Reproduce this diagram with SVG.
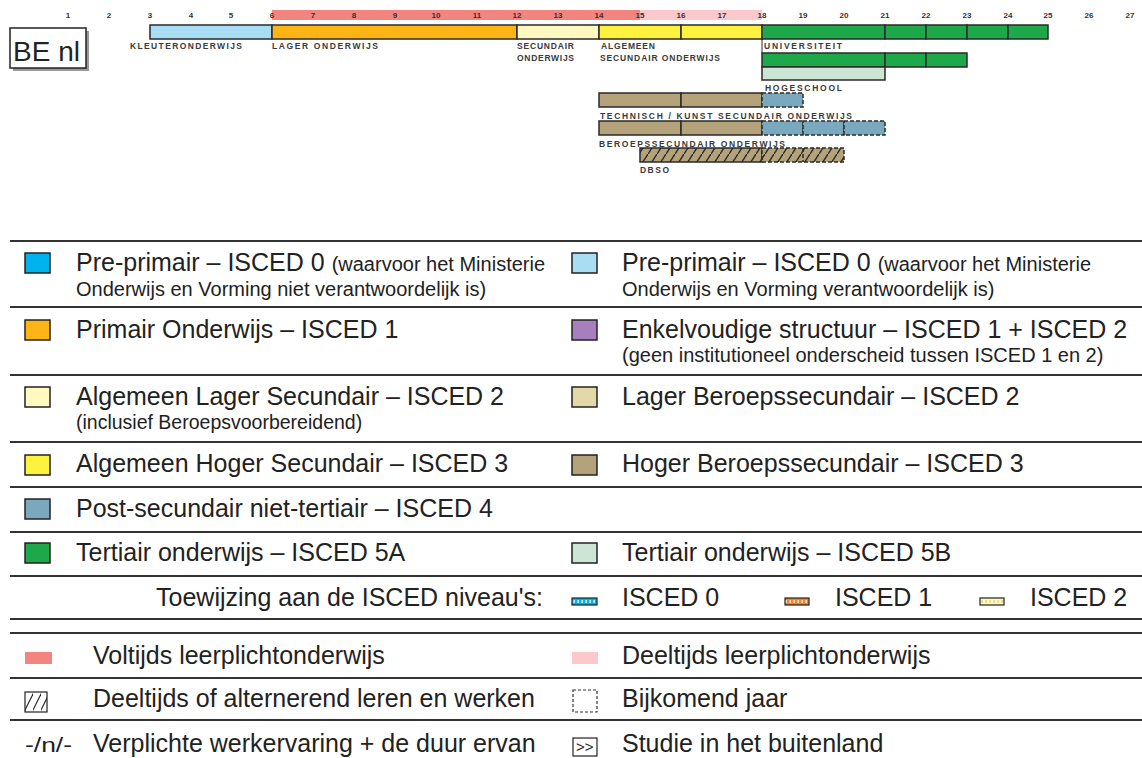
<svg xmlns="http://www.w3.org/2000/svg" width="1142" height="758" viewBox="0 0 1142 758">
<defs>
<style>
.num{font-family:"Liberation Sans",Arial,sans-serif;font-size:8px;font-weight:bold;fill:#333;text-anchor:middle}
.lab{font-family:"Liberation Sans",Arial,sans-serif;font-size:8.5px;font-weight:bold;fill:#3a3a3a}
.bar{stroke:#2a2a2a;stroke-width:1.5}
.dash{stroke:#2a2a2a;stroke-width:1.5;stroke-dasharray:4 2}
.lt{font-family:"Liberation Sans",Arial,sans-serif;font-size:25px;fill:#222}
.st{font-family:"Liberation Sans",Arial,sans-serif;font-size:20px;fill:#222}
.xs{font-family:"Liberation Sans",Arial,sans-serif;font-size:19.5px;fill:#222}
.sw{stroke:#222;stroke-width:1.5}
.rule{stroke:#333;stroke-width:2}
</style>
<pattern id="hatch" patternUnits="userSpaceOnUse" width="9" height="14">
<rect width="9" height="14" fill="#B4A27A"/>
<path d="M0,14 L9,0" stroke="#2a2a2a" stroke-width="1.4"/>
</pattern>
<pattern id="hatch2" patternUnits="userSpaceOnUse" x="25" y="692" width="8" height="20">
<rect width="8" height="20" fill="#fff"/>
<path d="M-1,20 L9,0" stroke="#222" stroke-width="1.2"/>
</pattern>
<pattern id="str0" patternUnits="userSpaceOnUse" x="0" y="598" width="4" height="8">
<rect width="4" height="8" fill="#00B3EC"/><rect x="1.5" y="2" width="1.2" height="3" fill="#fff"/>
</pattern>
<pattern id="str1" patternUnits="userSpaceOnUse" x="0" y="598" width="4" height="8">
<rect width="4" height="8" fill="#F58220"/><rect x="1.5" y="2" width="1.2" height="3" fill="#fff"/>
</pattern>
<pattern id="str2" patternUnits="userSpaceOnUse" x="0" y="598" width="4" height="8">
<rect width="4" height="8" fill="#FFF8C0"/><rect x="1.5" y="2" width="1.2" height="3" fill="#D8CF7A"/>
</pattern>
</defs>
<rect width="1142" height="758" fill="#fff"/>

<g id="country">
<rect x="13" y="31" width="76" height="40" fill="#999"/>
<rect x="10" y="28" width="76" height="40" fill="#fff" stroke="#222" stroke-width="1.5"/>
<text x="13" y="61" style="font-family:'Liberation Sans',Arial,sans-serif;font-size:28px;fill:#222">BE nl</text>
</g>

<g id="compulsory">
<rect x="272" y="10" width="368" height="10" fill="#F2857F"/>
<rect x="640" y="10" width="122" height="10" fill="#FBC8CC"/>
</g>

<g id="axis">
<text class="num" x="68" y="18">1</text><text class="num" x="109" y="18">2</text><text class="num" x="150" y="18">3</text><text class="num" x="191" y="18">4</text><text class="num" x="231" y="18">5</text><text class="num" x="272" y="18">6</text><text class="num" x="313" y="18">7</text><text class="num" x="354" y="18">8</text><text class="num" x="395" y="18">9</text><text class="num" x="436" y="18">10</text><text class="num" x="477" y="18">11</text><text class="num" x="517" y="18">12</text><text class="num" x="558" y="18">13</text><text class="num" x="599" y="18">14</text><text class="num" x="640" y="18">15</text><text class="num" x="681" y="18">16</text><text class="num" x="722" y="18">17</text><text class="num" x="762" y="18">18</text><text class="num" x="803" y="18">19</text><text class="num" x="844" y="18">20</text><text class="num" x="885" y="18">21</text><text class="num" x="926" y="18">22</text><text class="num" x="967" y="18">23</text><text class="num" x="1008" y="18">24</text><text class="num" x="1048" y="18">25</text><text class="num" x="1089" y="18">26</text><text class="num" x="1130" y="18">27</text>
</g>

<g id="kleuter">
<rect class="bar" x="150" y="25" width="122" height="14" fill="#A9DDF4"/>
<text class="lab" x="130" y="49" textLength="112" lengthAdjust="spacing">KLEUTERONDERWIJS</text>
</g>
<g id="lager">
<rect class="bar" x="272" y="25" width="245" height="14" fill="#FDB515"/>
<text class="lab" x="272" y="49" textLength="106" lengthAdjust="spacing">LAGER ONDERWIJS</text>
</g>
<g id="secundair">
<rect class="bar" x="517" y="25" width="82" height="14" fill="#FFF8C0"/>
<text class="lab" x="517" y="49" textLength="57" lengthAdjust="spacing">SECUNDAIR</text>
<text class="lab" x="517" y="61" textLength="57" lengthAdjust="spacing">ONDERWIJS</text>
</g>
<g id="algemeen">
<rect class="bar" x="599" y="25" width="82" height="14" fill="#FFF23F"/>
<rect class="bar" x="681" y="25" width="81" height="14" fill="#FFF23F"/>
<text class="lab" x="601" y="49" textLength="54" lengthAdjust="spacing">ALGEMEEN</text>
<text class="lab" x="600" y="61" textLength="120" lengthAdjust="spacing">SECUNDAIR ONDERWIJS</text>
</g>
<g id="universiteit">
<line x1="762" y1="39" x2="762" y2="53" stroke="#2a2a2a" stroke-width="1"/>
<rect class="bar" x="762" y="25" width="123" height="14" fill="#1DA84A"/>
<rect class="bar" x="885" y="25" width="41" height="14" fill="#1DA84A"/>
<rect class="bar" x="926" y="25" width="41" height="14" fill="#1DA84A"/>
<rect class="bar" x="967" y="25" width="41" height="14" fill="#1DA84A"/>
<rect class="bar" x="1008" y="25" width="40" height="14" fill="#1DA84A"/>
<text class="lab" x="764" y="49" textLength="78" lengthAdjust="spacing">UNIVERSITEIT</text>
</g>
<g id="hogeschool">
<rect class="bar" x="762" y="53" width="123" height="14" fill="#1DA84A"/>
<rect class="bar" x="885" y="53" width="41" height="14" fill="#1DA84A"/>
<rect class="bar" x="926" y="53" width="41" height="14" fill="#1DA84A"/>
<rect class="bar" x="762" y="67" width="123" height="13" fill="#CCE6D3"/>
<text class="lab" x="765" y="91" textLength="77" lengthAdjust="spacing">HOGESCHOOL</text>
</g>
<g id="technisch">
<rect class="bar" x="599" y="93" width="82" height="14" fill="#B4A27A"/>
<rect class="bar" x="681" y="93" width="81" height="14" fill="#B4A27A"/>
<rect class="dash" x="762" y="93" width="41" height="14" fill="#7AA8BD"/>
<text class="lab" x="600" y="119" textLength="252" lengthAdjust="spacing">TECHNISCH / KUNST SECUNDAIR ONDERWIJS</text>
</g>
<g id="beroeps">
<rect class="bar" x="599" y="121" width="82" height="14" fill="#B4A27A"/>
<rect class="bar" x="681" y="121" width="81" height="14" fill="#B4A27A"/>
<rect class="dash" x="762" y="121" width="41" height="14" fill="#7AA8BD"/>
<rect class="dash" x="803" y="121" width="41" height="14" fill="#7AA8BD"/>
<rect class="dash" x="844" y="121" width="41" height="14" fill="#7AA8BD"/>
<text class="lab" x="599" y="147" textLength="186" lengthAdjust="spacing">BEROEPSSECUNDAIR ONDERWIJS</text>
</g>
<g id="dbso">
<rect class="bar" x="640" y="148" width="122" height="14" fill="url(#hatch)"/>
<rect class="dash" x="762" y="148" width="82" height="14" fill="url(#hatch)"/>
<line class="dash" x1="803" y1="148" x2="803" y2="162"/>
<text class="lab" x="640" y="173" textLength="29" lengthAdjust="spacing">DBSO</text>
</g>

<g id="rules">
<line class="rule" x1="10" y1="241" x2="1142" y2="241"/>
<line class="rule" x1="10" y1="307" x2="1142" y2="307"/>
<line class="rule" x1="10" y1="375" x2="1142" y2="375"/>
<line class="rule" x1="10" y1="442" x2="1142" y2="442"/>
<line class="rule" x1="10" y1="487" x2="1142" y2="487"/>
<line class="rule" x1="10" y1="532" x2="1142" y2="532"/>
<line class="rule" x1="10" y1="576" x2="1142" y2="576"/>
<line class="rule" x1="10" y1="619" x2="1142" y2="619"/>
<line class="rule" x1="10" y1="633" x2="1142" y2="633"/>
<line class="rule" x1="10" y1="678" x2="1142" y2="678"/>
<line class="rule" x1="10" y1="720" x2="1142" y2="720"/>
</g>

<g id="leg-preprimair">
<rect class="sw" x="25" y="253" width="25" height="20" fill="#00B3EC"/>
<text class="lt" x="76" y="271">Pre-primair – ISCED 0 <tspan class="st">(waarvoor het Ministerie</tspan></text>
<text class="st" x="76" y="296">Onderwijs en Vorming niet verantwoordelijk is)</text>
</g>
<g id="leg-preprimair2">
<rect class="sw" x="572" y="253" width="25" height="20" fill="#A9DDF4"/>
<text class="lt" x="622" y="271">Pre-primair – ISCED 0 <tspan class="st">(waarvoor het Ministerie</tspan></text>
<text class="st" x="622" y="296">Onderwijs en Vorming verantwoordelijk is)</text>
</g>
<g id="leg-primair">
<rect class="sw" x="25" y="320" width="25" height="20" fill="#FDB515"/>
<text class="lt" x="76" y="338">Primair Onderwijs – ISCED 1</text>
</g>
<g id="leg-enkel">
<rect class="sw" x="572" y="320" width="25" height="20" fill="#A67FBC"/>
<text class="lt" x="622" y="338">Enkelvoudige structuur – ISCED 1 + ISCED 2</text>
<text class="st" x="622" y="362">(geen institutioneel onderscheid tussen ISCED 1 en 2)</text>
</g>
<g id="leg-alglager">
<rect class="sw" x="25" y="387" width="25" height="20" fill="#FFF8C0"/>
<text class="lt" x="76" y="405">Algemeen Lager Secundair – ISCED 2</text>
<text class="xs" x="76" y="429">(inclusief Beroepsvoorbereidend)</text>
</g>
<g id="leg-berlager">
<rect class="sw" x="572" y="387" width="25" height="20" fill="#E3D8A8"/>
<text class="lt" x="622" y="405">Lager Beroepssecundair – ISCED 2</text>
</g>
<g id="leg-alghoger">
<rect class="sw" x="25" y="455" width="25" height="20" fill="#FFF23F"/>
<text class="lt" x="76" y="472">Algemeen Hoger Secundair – ISCED 3</text>
</g>
<g id="leg-berhoger">
<rect class="sw" x="572" y="455" width="25" height="20" fill="#B4A27A"/>
<text class="lt" x="622" y="472">Hoger Beroepssecundair – ISCED 3</text>
</g>
<g id="leg-postsec">
<rect class="sw" x="25" y="499" width="25" height="20" fill="#7AA8BD"/>
<text class="lt" x="76" y="517">Post-secundair niet-tertiair – ISCED 4</text>
</g>
<g id="leg-5a">
<rect class="sw" x="25" y="543" width="25" height="20" fill="#1DA84A"/>
<text class="lt" x="76" y="561">Tertiair onderwijs – ISCED 5A</text>
</g>
<g id="leg-5b">
<rect class="sw" x="572" y="543" width="25" height="20" fill="#CCE6D3"/>
<text class="lt" x="622" y="561">Tertiair onderwijs – ISCED 5B</text>
</g>
<g id="leg-toewijzing">
<text class="lt" x="543" y="606" text-anchor="end">Toewijzing aan de ISCED niveau's:</text>
<rect x="572" y="598" width="25" height="7" fill="url(#str0)" stroke="#222" stroke-width="1.2"/>
<text class="lt" x="622" y="606">ISCED 0</text>
<rect x="785" y="598" width="24" height="7" fill="url(#str1)" stroke="#222" stroke-width="1.2"/>
<text class="lt" x="835" y="606">ISCED 1</text>
<rect x="980" y="598" width="24" height="7" fill="url(#str2)" stroke="#222" stroke-width="1.2"/>
<text class="lt" x="1030" y="606">ISCED 2</text>
</g>
<g id="leg-voltijds">
<rect x="25" y="652" width="27" height="12" fill="#F2857F"/>
<text class="lt" x="93" y="664">Voltijds leerplichtonderwijs</text>
</g>
<g id="leg-deeltijds">
<rect x="572" y="652" width="26" height="12" fill="#FBC8CC"/>
<text class="lt" x="622" y="664">Deeltijds leerplichtonderwijs</text>
</g>
<g id="leg-alternerend">
<rect x="25" y="692" width="22" height="20" fill="url(#hatch2)" stroke="#222" stroke-width="1.2"/>
<text class="lt" x="93" y="707">Deeltijds of alternerend leren en werken</text>
</g>
<g id="leg-bijkomend">
<rect x="573" y="690" width="24" height="22" fill="none" stroke="#333" stroke-width="1.2" stroke-dasharray="3 2"/>
<text class="lt" x="622" y="707">Bijkomend jaar</text>
</g>
<g id="leg-werkervaring">
<text class="st" x="25" y="752" textLength="47" lengthAdjust="spacingAndGlyphs">-/n/-</text>
<text class="lt" x="93" y="752">Verplichte werkervaring + de duur ervan</text>
</g>
<g id="leg-buitenland">
<rect x="573" y="738" width="24" height="18" fill="#fff" stroke="#222" stroke-width="1.2"/>
<text x="576" y="752" style="font-family:'Liberation Sans',Arial,sans-serif;font-size:15px;fill:#222">&gt;&gt;</text>
<text class="lt" x="622" y="752">Studie in het buitenland</text>
</g>
</svg>
